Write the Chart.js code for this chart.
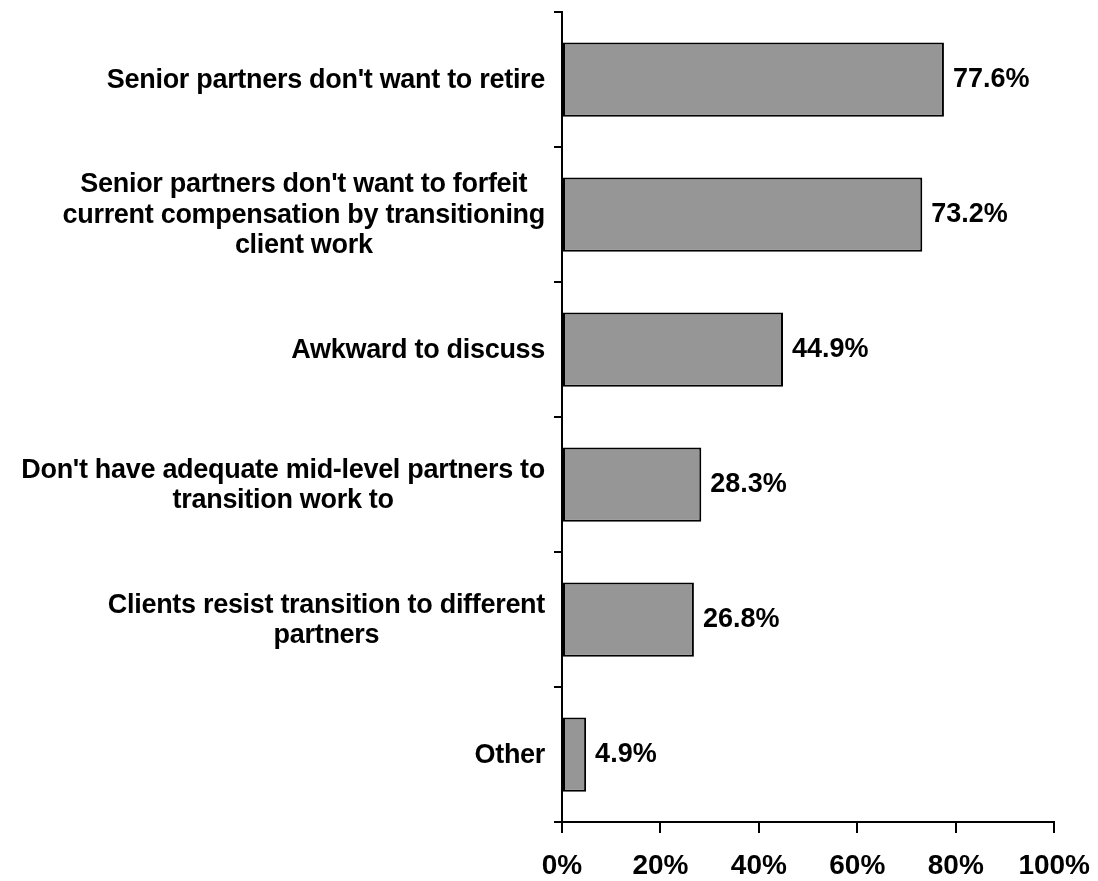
<!DOCTYPE html>
<html>
<head>
<meta charset="utf-8">
<title>Barriers to transitioning client work</title>
<script src="https://cdn.jsdelivr.net/npm/chart.js@4.4.1/dist/chart.umd.min.js"></script>
<style>
    body { margin: 0; background: #fff; }
    #wrap { width: 1098px; height: 881px; }
</style>
</head>
<body>
<div id="wrap"><canvas id="chart" width="1098" height="881"></canvas></div>
<script>
// --- data ---
const categories = [
    ["Senior partners don't want to retire"],
    ["Senior partners don't want to forfeit", "current compensation by transitioning", "client work"],
    ["Awkward to discuss"],
    ["Don't have adequate mid-level partners to", "transition work to"],
    ["Clients resist transition to different", "partners"],
    ["Other"]
];
const values = [77.6, 73.2, 44.9, 28.3, 26.8, 4.9];
const xTicks = [0, 20, 40, 60, 80, 100];

const FONT = '"Liberation Sans", Arial, sans-serif';
const LINE_H = 30.5;

// category labels: right-aligned block, lines centred inside it; value labels at bar ends
const labelPlugin = {
    id: 'barLabels',
    afterDraw(chart) {
        const ctx = chart.ctx;
        const yScale = chart.scales.y;
        const meta = chart.getDatasetMeta(0);
        ctx.save();
        ctx.fillStyle = '#000';
        ctx.textBaseline = 'middle';

        ctx.font = 'bold 27px ' + FONT;
        ctx.letterSpacing = '-0.3px';
        ctx.textAlign = 'center';
        const right = yScale.right - 17;
        categories.forEach((lines, i) => {
            const y = yScale.getPixelForValue(i) + 1;
            const w = Math.max(...lines.map(l => ctx.measureText(l).width));
            const cx = right - w / 2;
            const top = y - (lines.length - 1) * LINE_H / 2;
            lines.forEach((l, j) => ctx.fillText(l, cx, top + j * LINE_H));
        });

        ctx.font = 'bold 27px ' + FONT;
        ctx.letterSpacing = '0px';
        ctx.textAlign = 'left';
        meta.data.forEach((bar, i) => {
            ctx.fillText(values[i].toFixed(1) + '%', bar.x + 9, bar.y);
        });
        ctx.restore();
    }
};

new Chart(document.getElementById('chart'), {
    type: 'bar',
    data: {
        labels: categories,
        datasets: [{
            data: values,
            backgroundColor: '#969696',
            borderColor: '#000',
            borderWidth: 2,
            borderSkipped: false,
            barPercentage: 0.55,
            categoryPercentage: 1
        }]
    },
    options: {
        indexAxis: 'y',
        responsive: false,
        animation: false,
        layout: { padding: { left: 554, right: 30, top: 12, bottom: -18 } },
        plugins: { legend: { display: false }, tooltip: { enabled: false } },
        scales: {
            x: {
                min: 0,
                max: 100,
                afterBuildTicks: scale => { scale.ticks = xTicks.map(v => ({ value: v })); },
                grid: { drawOnChartArea: false, drawTicks: true, tickLength: 11, color: '#000', lineWidth: 2 },
                border: { color: '#000', width: 2 },
                ticks: {
                    color: '#000',
                    padding: 8,
                    font: { family: FONT, size: 28, weight: 'bold', lineHeight: 50 / 28 },
                    callback: v => v + '%'
                }
            },
            y: {
                grid: { drawOnChartArea: false, drawTicks: true, tickLength: 8, color: '#000', lineWidth: 2, offset: true },
                border: { color: '#000', width: 2 },
                ticks: { display: false }
            }
        }
    },
    plugins: [labelPlugin]
});
</script>
</body>
</html>
